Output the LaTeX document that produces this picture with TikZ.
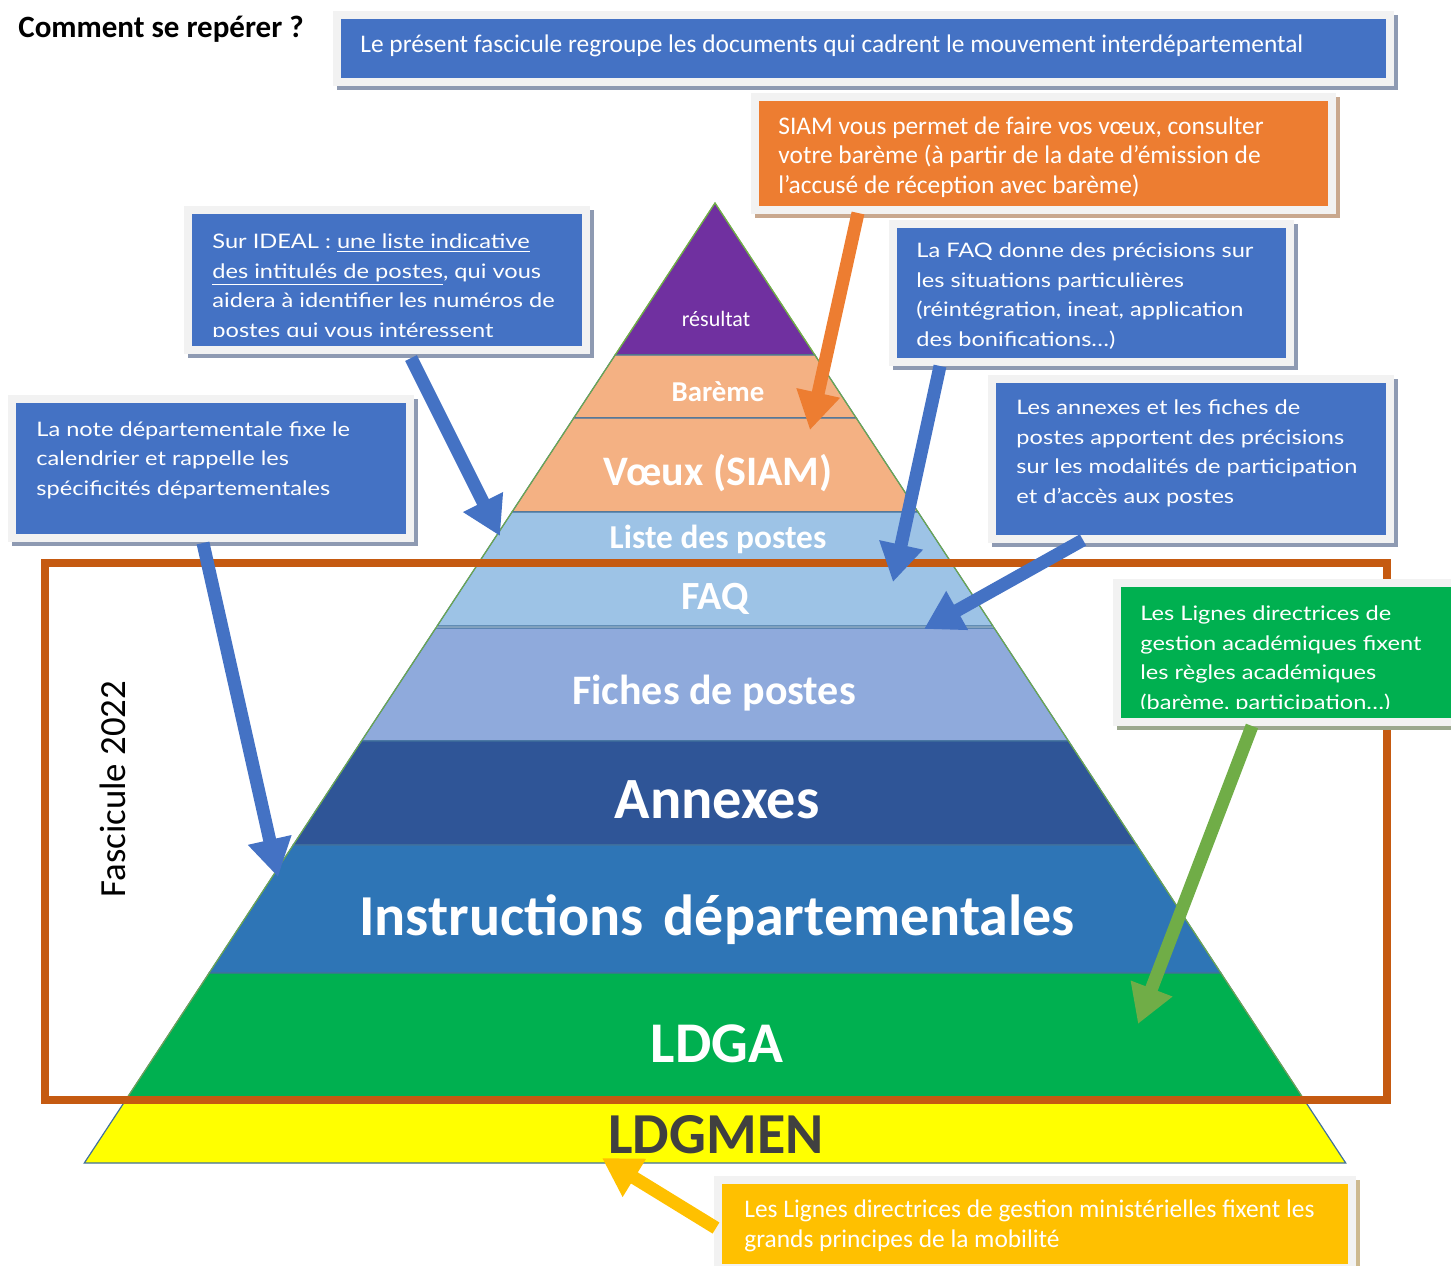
\documentclass[tikz,border=0pt]{standalone}
\usepackage{fontspec}
\setmainfont{Carlito}
\newfontfamily\cfont{Carlito}
\newfontfamily\mfont[FakeStretch=1.18]{Lato}
\usetikzlibrary{arrows.meta,shadows,fit,calc}
\definecolor{cPurple}{HTML}{7030A0}
\definecolor{cPeach}{HTML}{F4B183}
\definecolor{cLB}{HTML}{9DC3E6}
\definecolor{cMB}{HTML}{8FAADC}
\definecolor{cDB}{HTML}{2F5597}
\definecolor{cB}{HTML}{2E75B6}
\definecolor{cG}{HTML}{00B050}
\definecolor{cY}{HTML}{FFFF00}
\definecolor{cSep}{HTML}{41719C}
\definecolor{cGL}{HTML}{70AD47}
\definecolor{cFrame}{HTML}{C55A11}
\definecolor{bBlue}{HTML}{4472C4}
\definecolor{bOrange}{HTML}{ED7D31}
\definecolor{bYellow}{HTML}{FFC000}
\definecolor{boxOuter}{HTML}{F2F2F2}
\definecolor{shBlue}{HTML}{8E9AB2}
\definecolor{shOrange}{HTML}{C9A88E}
\definecolor{shGreen}{HTML}{9BA88E}
\definecolor{shYellow}{HTML}{CDB98F}
\definecolor{tGrey}{HTML}{404040}
\tikzset{
  layer/.style={draw=cSep, line width=0.6pt},
  lab/.style={anchor=base, inner sep=0, text=white, font=\cfont\bfseries},
  box/.style 2 args={rectangle, inner sep=0, fill=boxOuter, draw=none,
    drop shadow={shadow xshift=2pt, shadow yshift=-2pt, fill=#2, opacity=1},
    path picture={\fill[#1] ($(path picture bounding box.south west)+(4pt,4pt)$) rectangle ($(path picture bounding box.north east)+(-4pt,-4pt)$);}},
  mtext/.style={anchor=base west, inner sep=0, align=left, text=white, font=\mfont\fontsize{10}{14.7}\selectfont},
  ctext/.style={anchor=base west, inner sep=0, align=left, text=white, font=\cfont\fontsize{12.7}{14.6}\selectfont},
  arr/.style={line width=6.5pt, -{Triangle[length=19pt,width=21pt]}},
  frame/.style={draw=cFrame, line width=4pt}
}
\begin{document}
\begin{tikzpicture}[x=0.5pt,y=-0.5pt]
\useasboundingbox (0,0) rectangle (1451,1265);
% pyramid layers
\filldraw[fill=cPurple, draw=cGL, line width=0.6pt] (715,203) -- (814.9,355) -- (615.1,355) -- cycle;
\filldraw[layer, fill=cPeach] (615.1,355) -- (814.9,355) -- (856.3,418) -- (573.7,418) -- cycle;
\filldraw[layer, fill=cPeach] (573.7,418) -- (856.3,418) -- (918,512) -- (512,512) -- cycle;
\filldraw[layer, fill=cLB] (512,512) -- (918,512) -- (951.5,563) -- (478.5,563) -- cycle;
\filldraw[layer, fill=cLB] (478.5,563) -- (951.5,563) -- (992.9,626) -- (437.1,626) -- cycle;
\filldraw[layer, fill=cMB] (435.8,628) -- (994.2,628) -- (1068.5,741) -- (361.5,741) -- cycle;
\filldraw[layer, fill=cDB] (361.5,741) -- (1068.5,741) -- (1136.8,845) -- (293.2,845) -- cycle;
\filldraw[layer, fill=cB] (293.2,845) -- (1136.8,845) -- (1220.9,973) -- (209.1,973) -- cycle;
\filldraw[layer, fill=cG] (209.1,973) -- (1220.9,973) -- (1304.3,1100) -- (125.7,1100) -- cycle;
\filldraw[layer, fill=cY] (125.7,1100) -- (1304.3,1100) -- (1345.7,1163) -- (84.3,1163) -- cycle;
\draw[cGL, line width=0.5pt] (125.7,1100) -- (715,203) -- (1304.3,1100);
% labels
\node[lab, font=\cfont\fontsize{11}{13}\selectfont] (lres) at (716,326) {résultat};
\node[lab, font=\cfont\bfseries\fontsize{14.4}{17}\selectfont] (lbar) at (718,401) {Barème};
\node[lab, font=\cfont\bfseries\fontsize{21}{25}\selectfont] (lvoe) at (718,485) {Vœux (SIAM)};
\node[lab, font=\cfont\bfseries\fontsize{16.7}{20}\selectfont] (llis) at (718,548) {Liste des postes};
\node[lab, font=\cfont\bfseries\fontsize{20}{24}\selectfont] (lfaq) at (715,609) {FAQ};
\node[lab, font=\cfont\bfseries\fontsize{21}{25}\selectfont] (lfic) at (714,704) {Fiches de postes};
\node[lab, font=\cfont\bfseries\fontsize{29.2}{34}\selectfont] (lann) at (717,818) {Annexes};
\node[lab, font=\cfont\bfseries\fontsize{29}{34}\selectfont] (lins) at (717,935) {Instructions\hspace{0.12em} départementales};
\node[lab, font=\cfont\bfseries\fontsize{28.8}{34}\selectfont] (lldga) at (717,1062) {LDGA};
\node[lab, text=tGrey, font=\cfont\bfseries\fontsize{29}{34}\selectfont] (lldgmen) at (716,1153) {LDGMEN};
% title and frame
\node[anchor=base west, inner sep=0, font=\cfont\bfseries\fontsize{15.5}{18}\selectfont] (title) at (18,37) {Comment se repérer ?};
\draw[frame] (45,563) rectangle (1387,1100);
\node[rotate=90, inner sep=0, font=\cfont\fontsize{18.4}{22}\selectfont] (fasc) at (113,789) {Fascicule 2022};
% boxes (text nodes anchored at the baseline of their last line)
\node[box={bBlue}{shBlue}, fit={(333,11) (1394,86)}] (topbox) {};
\node[ctext] (toptext) at (360,52) {Le présent fascicule regroupe les documents qui cadrent le mouvement interdépartemental};
\node[box={bOrange}{shOrange}, fit={(751,93) (1336,214)}] (siam) {};
\node[ctext] (siamtext) at (778,193) {SIAM vous permet de faire vos vœux, consulter\\votre barème (à partir de la date d’émission de\\l’accusé de réception avec barème)};
\node[box={bBlue}{shBlue}, fit={(184,206) (590,354)}] (ideal) {};
\begin{scope}
\clip (190,212) rectangle (584,336);
\node[mtext] (idealtext) at (212,337) {Sur IDEAL : \underline{une liste indicative}\\\underline{des intitulés de postes}, qui vous\\aidera à identifier les numéros de\\postes qui vous intéressent};
\end{scope}
\node[box={bBlue}{shBlue}, fit={(889,220) (1294,366)}] (faq) {};
\node[mtext] (faqtext) at (916,346) {La FAQ donne des précisions sur\\les situations particulières\\(réintégration, ineat, application\\des bonifications…)};
\node[box={bBlue}{shBlue}, fit={(988,375) (1394,543)}] (annex) {};
\node[mtext] (annextext) at (1016,503) {Les annexes et les fiches de\\postes apportent des précisions\\sur les modalités de participation\\et d’accès aux postes};
\node[box={bBlue}{shBlue}, fit={(8,395) (414,542)}] (note) {};
\node[mtext] (notetext) at (36,495) {La note départementale fixe le\\calendrier et rappelle les\\spécificités départementales};
\node[box={cG}{shGreen}, fit={(1113,579) (1470,726)}] (ldga) {};
\begin{scope}
\clip (1118,584) rectangle (1470,708);
\node[mtext] (ldgatext) at (1140,709) {Les Lignes directrices de\\gestion académiques fixent\\les règles académiques\\(barème, participation…)};
\end{scope}
\node[box={bYellow}{shYellow}, fit={(714,1176) (1356,1272)}] (ldgmen) {};
\node[ctext] (ldgmentext) at (744,1247) {Les Lignes directrices de gestion ministérielles fixent les\\grands principes de la mobilité};
% arrow ends
\coordinate (s1) at (411,358); \coordinate (e1) at (500,536);
\coordinate (s2) at (203,543); \coordinate (e2) at (278,877);
\coordinate (s3) at (858,213); \coordinate (e3) at (810,430);
\coordinate (s4) at (940,366); \coordinate (e4) at (893,582);
\coordinate (s5) at (1083,540); \coordinate (e5) at (924,629);
\coordinate (s6) at (1252,726); \coordinate (e6) at (1138,1024);
\coordinate (s7) at (716,1228); \coordinate (e7) at (602,1158);
\draw[arr, bBlue] (s1) -- (e1);
\draw[arr, bBlue] (s2) -- (e2);
\draw[arr, bOrange] (s3) -- (e3);
\draw[arr, bBlue] (s4) -- (e4);
\draw[arr, bBlue] (s5) -- (e5);
\draw[arr, cGL] (s6) -- (e6);
\draw[arr, bYellow] (s7) -- (e7);
\end{tikzpicture}
\end{document}
